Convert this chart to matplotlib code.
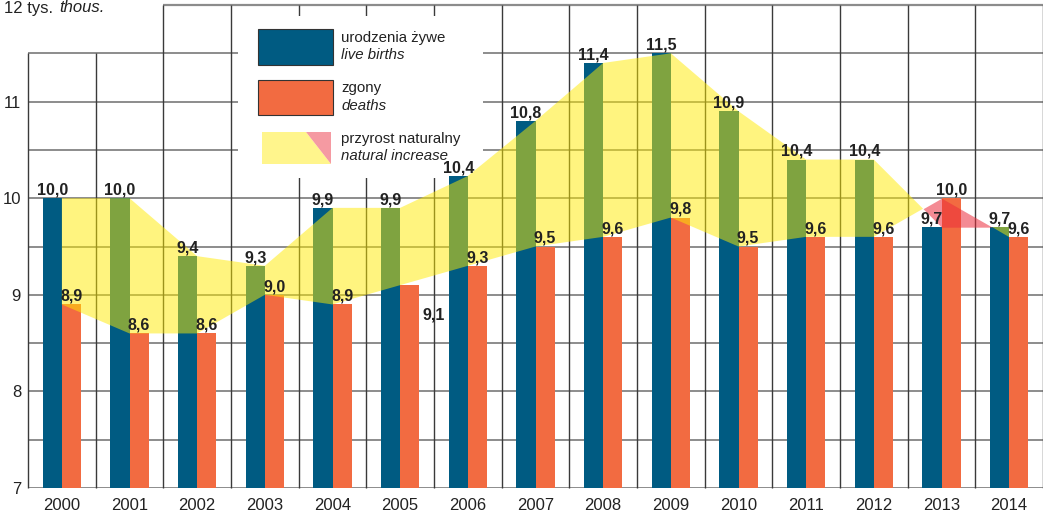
import numpy as np
import matplotlib
matplotlib.use("Agg")
import matplotlib.pyplot as plt
from matplotlib.patches import Rectangle, Polygon

plt.rcParams["font.family"] = ["Liberation Sans", "DejaVu Sans"]

# ── dane ──
years = ["2000", "2001", "2002", "2003", "2004", "2005", "2006", "2007",
         "2008", "2009", "2010", "2011", "2012", "2013", "2014"]
births = [10.0, 10.0, 9.4, 9.3, 9.9, 9.9, 10.23, 10.8, 11.4, 11.5, 10.9, 10.4, 10.4, 9.7, 9.7]
births_lbl = ["10,0", "10,0", "9,4", "9,3", "9,9", "9,9", "10,4", "10,8",
              "11,4", "11,5", "10,9", "10,4", "10,4", "9,7", "9,7"]
deaths = [8.9, 8.6, 8.6, 9.0, 8.9, 9.1, 9.3, 9.5, 9.6, 9.8, 9.5, 9.6, 9.6, 10.0, 9.6]
yticks = [7, 8, 9, 10, 11]

BLUE = "#005b82"; ORANGE = "#f26b41"
YEL = "#ffeb00"; RED = "#eb2d3c"; PINK = "#f59aa2"
W, H = 1043, 516
AX_L, AX_R, AX_T, AX_B = 28, 1043, 5, 488          # piksele ramki osi
BW = 0.285

fig = plt.figure(figsize=(W / 100, H / 100), dpi=100)
ax = fig.add_axes([AX_L / W, 1 - AX_B / H, (AX_R - AX_L) / W, (AX_B - AX_T) / H])
ax.set_xlim(-0.5, 14.5); ax.set_ylim(7, 12)
for s in ax.spines.values():
    s.set_visible(False)


def ap(px, py):                                      # piksel -> ułamek osi
    return (px - AX_L) / (AX_R - AX_L), (AX_B - py) / (AX_B - AX_T)


x = np.arange(len(years))
b = np.array(births); d = np.array(deaths)

# ── siatka (niepełna u góry z lewej) ──
HC = "#8c8c8c"; VC = "#3a3a3a"
for yv in np.arange(7, 12, 0.5):
    ax.hlines(yv, -0.5, 14.5, color=HC, lw=1.4, zorder=1)
ax.hlines(12, 1.5, 14.5, color=HC, lw=1.6, zorder=1, clip_on=False)
for xv in np.arange(-0.5, 15, 1.0):
    ax.vlines(xv, 7, 11.5 if xv < 1 else 12, color=VC, lw=1.0, zorder=1, clip_on=False)
# białe pole legendy zasłania siatkę
x0, y1 = ap(238, 16); x1, y0 = ap(483, 178)
ax.add_patch(Rectangle((x0, y0), x1 - x0, y1 - y0, transform=ax.transAxes,
                       facecolor="white", edgecolor="none", zorder=1.5))

# ── słupki ──
ax.bar(x - BW / 2, b, BW, color=BLUE, zorder=2)
ax.bar(x + BW / 2, d, BW, color=ORANGE, zorder=2)

# ── przyrost naturalny ──
ax.fill_between(x, b, d, where=b >= d, interpolate=True, color=YEL, alpha=0.5, lw=0, zorder=3)
ax.fill_between(x, b, d, where=b <= d, interpolate=True, color=RED, alpha=0.55, lw=0, zorder=3)

# ── etykiety wartości ──
lab = dict(ha="center", va="bottom", fontsize=11.5, fontweight="bold", color="#222222",
           textcoords="offset points", zorder=6)
for i in range(len(years)):
    ax.annotate(births_lbl[i], (x[i] - BW / 2, b[i]), xytext=(0, 0.5), **lab)
    off = (17, -27) if years[i] == "2005" else (0, 0.5)
    ax.annotate(f"{deaths[i]:.1f}".replace(".", ","), (x[i] + BW / 2, d[i]), xytext=off, **lab)

# ── osie ──
ax.set_xticks(x, years, fontsize=12)
ax.set_yticks(yticks, [str(v) for v in yticks], fontsize=12)
ax.tick_params(length=0, colors="#222222")
ax.tick_params(axis="x", pad=7)
ax.tick_params(axis="y", pad=5)
fig.text(4 / W, 1 - 12.5 / H, "12 tys.", fontsize=12, va="baseline", color="#222222")
fig.text(59 / W, 1 - 12.5 / H, "thous.", fontsize=12, style="italic", va="baseline", color="#222222")

# ── legenda ──
for (py0, py1, c) in [(29, 65, BLUE), (80, 115, ORANGE)]:
    lx, ly = ap(258, py1); rx, ry = ap(333, py0)
    ax.add_patch(Rectangle((lx, ly), rx - lx, ry - ly, transform=ax.transAxes,
                           facecolor=c, edgecolor="#333333", lw=0.8, zorder=7, clip_on=False))
ax.add_patch(Polygon([ap(262, 132), ap(306, 132), ap(331, 164), ap(262, 164)], closed=True,
                     transform=ax.transAxes, facecolor=YEL, alpha=0.45, edgecolor="none", zorder=7))
ax.add_patch(Polygon([ap(306, 132), ap(331, 132), ap(331, 164)], closed=True, transform=ax.transAxes,
                     facecolor=PINK, edgecolor="none", zorder=7))
for (txt, py, it) in [("urodzenia żywe", 38, False), ("live births", 55, True),
                      ("zgony", 88, False), ("deaths", 106, True),
                      ("przyrost naturalny", 139, False), ("natural increase", 156, True)]:
    ax.text(*ap(341, py), txt, transform=ax.transAxes, fontsize=10.8, va="center",
            style="italic" if it else "normal", color="#222222", zorder=8)

fig.savefig("out.png", dpi=100)
